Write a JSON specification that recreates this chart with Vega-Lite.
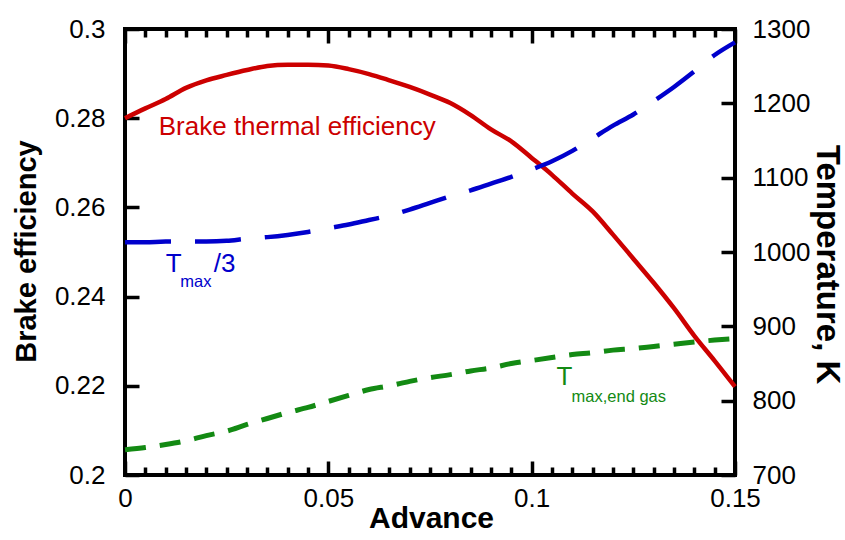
{
  "$schema": "https://vega.github.io/schema/vega-lite/v6.json",
  "padding": {"left": 10, "top": 14, "right": 0, "bottom": 0},
  "config": {
    "view": {"stroke": "black", "strokeWidth": 4},
    "font": "Liberation Sans",
    "axis": {
      "labelFont": "Liberation Sans",
      "labelFontSize": 26,
      "labelColor": "black",
      "tickColor": "black",
      "tickWidth": 3.5,
      "grid": false,
      "domain": false,
      "labelFlush": false,
      "labelOverlap": false,
      "titleFont": "Liberation Sans",
      "titleFontWeight": "bold",
      "titleColor": "black"
    }
  },
  "datasets": {
    "curves": [
      {"adv": 0, "eff": 0.2800, "tmax3": 1013, "tend": 734},
      {"adv": 0.005, "eff": 0.2822, "tmax3": 1013, "tend": 737},
      {"adv": 0.01, "eff": 0.2843, "tmax3": 1014, "tend": 741},
      {"adv": 0.015, "eff": 0.2868, "tmax3": 1014, "tend": 746},
      {"adv": 0.02, "eff": 0.2885, "tmax3": 1014, "tend": 753},
      {"adv": 0.025, "eff": 0.2897, "tmax3": 1015, "tend": 759},
      {"adv": 0.03, "eff": 0.2908, "tmax3": 1018, "tend": 768},
      {"adv": 0.035, "eff": 0.2917, "tmax3": 1020, "tend": 776},
      {"adv": 0.04, "eff": 0.2920, "tmax3": 1023, "tend": 784},
      {"adv": 0.045, "eff": 0.2920, "tmax3": 1027, "tend": 791},
      {"adv": 0.05, "eff": 0.2918, "tmax3": 1032, "tend": 799},
      {"adv": 0.055, "eff": 0.2910, "tmax3": 1037, "tend": 807},
      {"adv": 0.06, "eff": 0.2899, "tmax3": 1043, "tend": 815},
      {"adv": 0.065, "eff": 0.2885, "tmax3": 1049, "tend": 820},
      {"adv": 0.07, "eff": 0.2870, "tmax3": 1057, "tend": 826},
      {"adv": 0.075, "eff": 0.2853, "tmax3": 1066, "tend": 831},
      {"adv": 0.08, "eff": 0.2834, "tmax3": 1075, "tend": 835},
      {"adv": 0.085, "eff": 0.2807, "tmax3": 1083, "tend": 840},
      {"adv": 0.09, "eff": 0.2775, "tmax3": 1092, "tend": 844},
      {"adv": 0.095, "eff": 0.2748, "tmax3": 1101, "tend": 850},
      {"adv": 0.1, "eff": 0.2711, "tmax3": 1111, "tend": 854},
      {"adv": 0.105, "eff": 0.2673, "tmax3": 1122, "tend": 858},
      {"adv": 0.11, "eff": 0.2631, "tmax3": 1136, "tend": 862},
      {"adv": 0.115, "eff": 0.2591, "tmax3": 1153, "tend": 864.5},
      {"adv": 0.12, "eff": 0.2539, "tmax3": 1170, "tend": 868},
      {"adv": 0.125, "eff": 0.2485, "tmax3": 1185, "tend": 870},
      {"adv": 0.13, "eff": 0.2431, "tmax3": 1203, "tend": 873},
      {"adv": 0.135, "eff": 0.2374, "tmax3": 1222, "tend": 876},
      {"adv": 0.14, "eff": 0.2312, "tmax3": 1243, "tend": 879},
      {"adv": 0.145, "eff": 0.2256, "tmax3": 1265, "tend": 881.5},
      {"adv": 0.15, "eff": 0.2198, "tmax3": 1282, "tend": 883.5}
    ],
    "labels": [
      {"text": "Brake thermal efficiency", "series": "eff", "role": "main", "adv": 0.0083, "val": 0.2763},
      {"text": "T", "series": "tmax3", "role": "main", "adv": 0.0100, "val": 0.2455},
      {"text": "max", "series": "tmax3", "role": "sub", "adv": 0.0136, "val": 0.2421},
      {"text": "/3", "series": "tmax3", "role": "main", "adv": 0.0218, "val": 0.2455},
      {"text": "T", "series": "tend", "role": "main", "adv": 0.1061, "val": 0.2202},
      {"text": "max,end gas", "series": "tend", "role": "sub", "adv": 0.1098, "val": 0.2164}
    ]
  },
  "hconcat": [
    {
      "width": 610,
      "height": 446,
      "resolve": {
        "scale": {"y": "independent"},
        "axis": {"x": "independent", "y": "independent"}
      },
      "layer": [
        {
          "data": {"name": "curves"},
          "mark": {"type": "line", "color": "#cc0000", "strokeWidth": 4.5, "interpolate": "monotone"},
          "encoding": {
            "x": {
              "field": "adv", "type": "quantitative",
              "scale": {"domain": [0, 0.15], "nice": false, "zero": false},
              "axis": {
                "orient": "bottom",
                "values": [0, 0.005, 0.01, 0.015, 0.02, 0.025, 0.03, 0.035, 0.04, 0.045, 0.05, 0.055, 0.06, 0.065, 0.07, 0.075, 0.08, 0.085, 0.09, 0.095, 0.1, 0.105, 0.11, 0.115, 0.12, 0.125, 0.13, 0.135, 0.14, 0.145, 0.15],
                "labelExpr": "round(datum.value * 1000) % 50 === 0 ? format(datum.value, '.2~f') : ''",
                "tickDash": {"condition": {"test": "round(datum.value * 1000) % 50 === 0", "value": []}, "value": [0, 6, 8, 30]},
                "offset": -14, "tickSize": 14, "labelPadding": 10, "labelBaseline": "top",
                "title": "Advance", "titleFontSize": 30, "titleX": 306, "titleY": 66,
                "titleBaseline": "alphabetic", "titleAlign": "center"
              }
            },
            "y": {
              "field": "eff", "type": "quantitative",
              "scale": {"domain": [0.2, 0.3], "nice": false, "zero": false},
              "axis": {
                "orient": "left", "values": [0.2, 0.22, 0.24, 0.26, 0.28, 0.3],
                "labelExpr": "format(datum.value, '.2~f')",
                "offset": -14, "tickSize": 14, "labelPadding": 20,
                "title": "Brake efficiency", "titleFontSize": 29, "titleAngle": 270,
                "titleX": -104, "titleY": 222, "titleBaseline": "alphabetic", "titleAlign": "center"
              }
            }
          }
        },
        {
          "data": {"name": "curves"},
          "mark": {"type": "line", "color": "#0000cc", "strokeWidth": 4.5, "strokeDash": [46, 24], "interpolate": "monotone"},
          "encoding": {
            "x": {
              "field": "adv", "type": "quantitative",
              "scale": {"domain": [0, 0.15], "nice": false, "zero": false},
              "axis": {
                "orient": "top",
                "values": [0, 0.005, 0.01, 0.015, 0.02, 0.025, 0.03, 0.035, 0.04, 0.045, 0.05, 0.055, 0.06, 0.065, 0.07, 0.075, 0.08, 0.085, 0.09, 0.095, 0.1, 0.105, 0.11, 0.115, 0.12, 0.125, 0.13, 0.135, 0.14, 0.145, 0.15],
                "tickDash": {"condition": {"test": "round(datum.value * 1000) % 50 === 0", "value": []}, "value": [0, 6, 8, 30]},
                "offset": -14, "tickSize": 14, "labels": false, "title": null
              }
            },
            "y": {
              "field": "tmax3", "type": "quantitative",
              "scale": {"domain": [700, 1300], "nice": false, "zero": false},
              "axis": {
                "orient": "right", "values": [700, 800, 900, 1000, 1100, 1200, 1300], "format": "d",
                "offset": -14, "tickSize": 14, "labelPadding": 17,
                "title": "Temperature, K", "titleFontSize": 33, "titleAngle": 90,
                "titleX": 95, "titleY": 235, "titleBaseline": "alphabetic", "titleAlign": "center"
              }
            }
          }
        },
        {
          "data": {"name": "curves"},
          "mark": {"type": "line", "color": "#138a13", "strokeWidth": 5, "strokeDash": [21, 14], "interpolate": "monotone"},
          "encoding": {
            "x": {
              "field": "adv", "type": "quantitative",
              "scale": {"domain": [0, 0.15], "nice": false, "zero": false},
              "axis": null
            },
            "y": {
              "field": "tend", "type": "quantitative",
              "scale": {"domain": [700, 1300], "nice": false, "zero": false},
              "axis": null
            }
          }
        },
        {
          "data": {"name": "labels"},
          "transform": [{"filter": "datum.role === 'main'"}],
          "mark": {"type": "text", "align": "left", "baseline": "alphabetic", "fontSize": 26, "font": "Liberation Sans"},
          "encoding": {
            "x": {
              "field": "adv", "type": "quantitative",
              "scale": {"domain": [0, 0.15], "nice": false, "zero": false},
              "axis": null
            },
            "y": {
              "field": "val", "type": "quantitative",
              "scale": {"domain": [0.2, 0.3], "nice": false, "zero": false},
              "axis": null
            },
            "text": {"field": "text"},
            "color": {
              "field": "series", "type": "nominal",
              "scale": {"domain": ["eff", "tmax3", "tend"], "range": ["#cc0000", "#0000cc", "#138a13"]},
              "legend": null
            }
          }
        },
        {
          "data": {"name": "labels"},
          "transform": [{"filter": "datum.role === 'sub'"}],
          "mark": {"type": "text", "align": "left", "baseline": "alphabetic", "fontSize": 16.5, "font": "Liberation Sans"},
          "encoding": {
            "x": {
              "field": "adv", "type": "quantitative",
              "scale": {"domain": [0, 0.15], "nice": false, "zero": false},
              "axis": null
            },
            "y": {
              "field": "val", "type": "quantitative",
              "scale": {"domain": [0.2, 0.3], "nice": false, "zero": false},
              "axis": null
            },
            "text": {"field": "text"},
            "color": {
              "field": "series", "type": "nominal",
              "scale": {"domain": ["eff", "tmax3", "tend"], "range": ["#cc0000", "#0000cc", "#138a13"]},
              "legend": null
            }
          }
        }
      ]
    }
  ]
}
